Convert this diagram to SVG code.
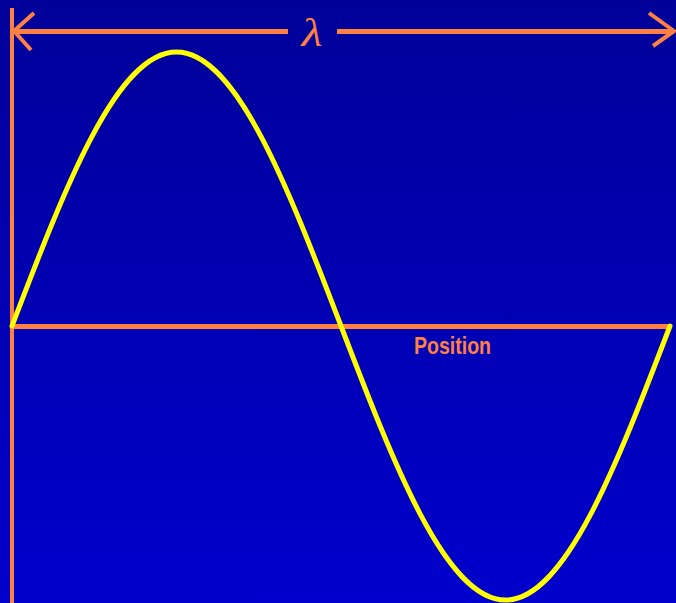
<svg xmlns="http://www.w3.org/2000/svg" width="676" height="603" viewBox="0 0 676 603">
<defs>
<linearGradient id="bg" x1="0" y1="0" x2="0" y2="1">
<stop offset="0" stop-color="#000099"/>
<stop offset="1" stop-color="#0000CC"/>
</linearGradient>
</defs>
<style>
.ax{stroke:#FF8040;fill:none;stroke-linecap:butt}
.lbl{fill:#FF8040}
.wave{stroke:#FFFF00;stroke-width:5;fill:none;stroke-linecap:round}
</style>
<rect x="0" y="0" width="676" height="603" fill="url(#bg)"/>
<g id="axes">
<line class="ax" x1="12" y1="8" x2="12" y2="603" stroke-width="4"/>
<line class="ax" x1="12" y1="326.5" x2="670" y2="326.5" stroke-width="5" stroke-linecap="round"/>
</g>
<g id="wavelength">
<line class="ax" x1="14" y1="31.5" x2="288" y2="31.5" stroke-width="5"/>
<line class="ax" x1="337" y1="31.5" x2="674" y2="31.5" stroke-width="5"/>
<polyline class="ax" points="34,13 14,31 31,50" stroke-width="4" stroke-linejoin="round"/>
<polyline class="ax" points="649,13 674,31 653,46" stroke-width="4" stroke-linejoin="round"/>
<text class="lbl" x="312" y="46" font-family="'Liberation Serif', serif" font-size="40" font-style="italic" text-anchor="middle" textLength="21" lengthAdjust="spacingAndGlyphs">λ</text>
</g>
<g id="wave">
<path class="wave" d="M12,326 C65.65,185.63 116.96,52 176.5,52 C236.04,52 287.35,185.63 341,326 C394.65,466.37 445.96,600 505.5,600 C565.04,600 616.35,466.37 670,326"/>
</g>
<g id="position-label">
<text class="lbl" x="414" y="354" font-family="'Liberation Sans', Arial, sans-serif" font-size="24" font-weight="bold" textLength="77" lengthAdjust="spacingAndGlyphs">Position</text>
</g>
</svg>
